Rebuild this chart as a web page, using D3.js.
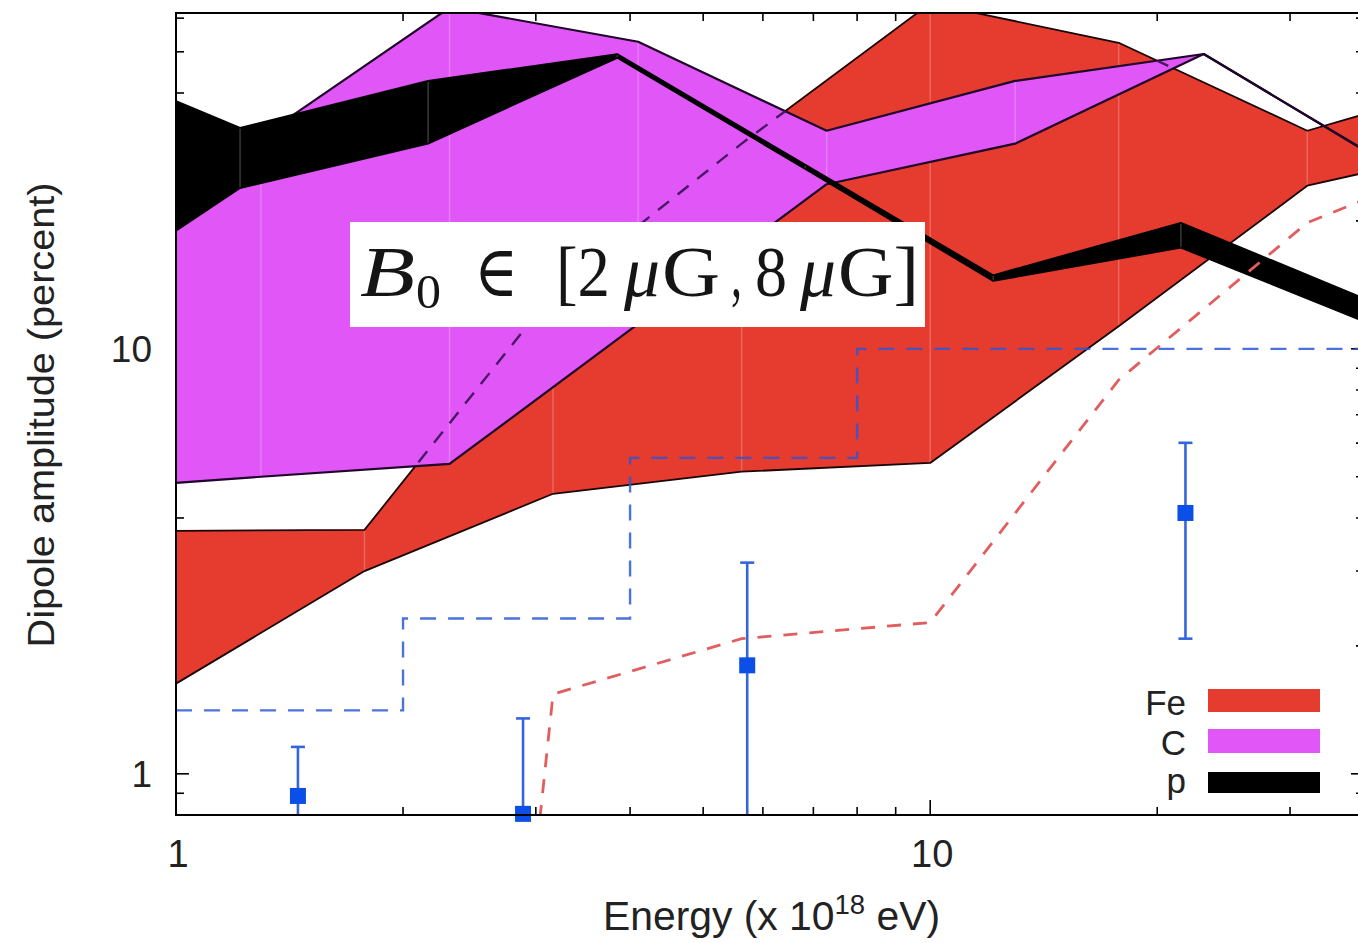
<!DOCTYPE html>
<html>
<head>
<meta charset="utf-8">
<script src="https://cdn.jsdelivr.net/npm/d3@7"></script>
<style>
  html, body { margin: 0; padding: 0; background: #ffffff; }
  svg { display: block; }
</style>
</head>
<body>
<svg id="chart" width="1358" height="943"></svg>
<script>
// ---- Expected dipole amplitude bands (percent) vs energy (x 10^18 eV) ----
const feEnergy = [1, 1.778, 3.162, 5.623, 10, 17.78, 31.62, 56.23];
const feHigh   = [3.73, 3.75, 13.5, 30.4, 65.0, 52.5, 32.6, 43.9];
const feLow    = [1.63, 3.00, 4.56, 5.14, 5.39, 11.3, 24.2, 30.5];

const cEnergy  = [1, 1.296, 2.305, 4.10, 7.29, 12.96, 23.05, 41.0];
const cHigh    = [22.3, 31.5, 63.5, 52.8, 32.6, 42.7, 49.4, 26.8];
const cLow     = [4.84, 5.0, 5.36, 11.45, 24.4, 30.4, 49.4, 26.8];

const pEnergy  = [1, 1.216, 2.159, 3.846, 6.83, 12.12, 21.5, 38.3];
const pHigh    = [38.3, 33.1, 42.7, 49.4, 27.1, 14.9, 19.8, 12.97];
const pLow     = [18.95, 23.9, 30.4, 48.4, 26.5, 14.45, 17.3, 11.45];

// ---- Upper limits (step) and a reference curve ----
const limitEnergy = [1, 2, 4, 8, 100];
const limitValue  = [1.41, 2.32, 5.54, 10, 10];

const curveEnergy = [1.778, 3.162, 5.623, 10, 17.78, 31.62, 56.23];
const curveValue  = [0.0001, 1.54, 2.08, 2.27, 8.45, 19.8, 30];

// ---- Measured amplitudes with error bars ----
const pointEnergy = [1.451, 2.885, 5.72, 21.8];
const pointValue  = [0.887, 0.805, 1.80, 4.11];
const pointHigh   = [1.157, 1.35, 3.14, 6.01];
const pointLow    = [0.5, 0.5, 0.5, 2.08];

// ---- Axis ticks ----
const xMajorTicks = [1, 10];
const xMinorTicks = [2, 3, 4, 5, 6, 7, 8, 9, 20, 30];
const yMajorTicks = [1, 10];
const yMinorTicks = [0.9, 2, 3, 4, 5, 6, 7, 8, 9, 20, 30, 40, 50, 60];
const xTickLabels = ["1", "10"];
const yTickLabels = ["1", "10"];

const legendLabels = ["Fe", "C", "p"];

const colors = { fe: "#e63b2f", c: "#e056f7", p: "#000000",
                 limit: "#2a58d6", curve: "#e25e5e", point: "#0b4fe6", bar: "#3465dc" };

const svg = d3.select("#chart");
const W = 1358, H = 943;
const plotL = 176, plotR = 1364, plotT = 13, plotB = 815;

const x = d3.scaleLog().domain([1, 37.6]).range([plotL, plotR]);
const y = d3.scaleLog().domain([0.8, 61.7]).range([plotB, plotT]);

svg.append("rect").attr("width", W).attr("height", H).attr("fill", "#fff");

const defs = svg.append("defs");
defs.append("clipPath").attr("id", "frameClip")
  .append("rect").attr("x", plotL).attr("y", plotT)
  .attr("width", plotR - plotL).attr("height", plotB - plotT);

// ---- Ticks (drawn under the bands, as in the original plot) ----
const tickG = svg.append("g").attr("stroke", "#000").attr("stroke-width", 1.6);
function xTicks(vals, len) {
  vals.forEach(v => {
    tickG.append("line").attr("x1", x(v)).attr("x2", x(v)).attr("y1", plotB).attr("y2", plotB - len);
    tickG.append("line").attr("x1", x(v)).attr("x2", x(v)).attr("y1", plotT).attr("y2", plotT + len);
  });
}
function yTicks(vals, len) {
  vals.forEach(v => {
    tickG.append("line").attr("y1", y(v)).attr("y2", y(v)).attr("x1", plotL).attr("x2", plotL + len);
    tickG.append("line").attr("y1", y(v)).attr("y2", y(v)).attr("x1", plotR).attr("x2", plotR - len);
  });
}
xTicks(xMajorTicks, 15); xTicks(xMinorTicks, 8);
yTicks(yMajorTicks, 13); yTicks(yMinorTicks, 8);

// ---- Bands ----
const plot = svg.append("g").attr("clip-path", "url(#frameClip)");

function bandData(E, lo, hi) {
  return E.map((e, i) => ({ e, lo: lo[i], hi: hi[i] }));
}
const area = d3.area().x(d => x(d.e)).y0(d => y(d.lo)).y1(d => y(d.hi));
const lineHi = d3.line().x(d => x(d.e)).y(d => y(d.hi));
const lineLo = d3.line().x(d => x(d.e)).y(d => y(d.lo));

function drawBand(data, fill, edge, edgeWidth) {
  const g = plot.append("g");
  g.append("path").attr("d", area(data)).attr("fill", fill);
  // faint seams where neighbouring polygon pieces meet
  data.slice(1, -1).forEach(d => {
    g.append("line").attr("x1", x(d.e)).attr("x2", x(d.e))
      .attr("y1", y(d.hi)).attr("y2", y(d.lo))
      .attr("stroke", "#fff").attr("stroke-opacity", 0.22).attr("stroke-width", 1.5);
  });
  g.append("path").attr("d", lineHi(data)).attr("fill", "none")
    .attr("stroke", edge).attr("stroke-width", edgeWidth).attr("stroke-linejoin", "round");
  g.append("path").attr("d", lineLo(data)).attr("fill", "none")
    .attr("stroke", edge).attr("stroke-width", edgeWidth).attr("stroke-linejoin", "round");
  return g;
}

const feData = bandData(feEnergy, feLow, feHigh);
const cData = bandData(cEnergy, cLow, cHigh);
const pData = bandData(pEnergy, pLow, pHigh);

drawBand(feData, colors.fe, "#1a0505", 1.8);
drawBand(cData, colors.c, "#1e0529", 2.2);

// upper Fe edge seen through the C band, dashed
defs.append("clipPath").attr("id", "cClip").append("path").attr("d", area(cData));
plot.append("g").attr("clip-path", "url(#cClip)")
  .append("path").attr("d", lineHi(feData)).attr("fill", "none")
  .attr("stroke", "#4a1668").attr("stroke-width", 2.4).attr("stroke-dasharray", "14 11");

drawBand(pData, colors.p, "#000", 1.8);

// ---- Upper-limit steps and reference curve ----
const limitData = limitEnergy.map((e, i) => ({ e, v: limitValue[i] }));
plot.append("path")
  .attr("d", d3.line().curve(d3.curveStepAfter).x(d => x(d.e)).y(d => y(d.v))(limitData))
  .attr("fill", "none").attr("stroke", colors.limit).attr("stroke-opacity", 0.84)
  .attr("stroke-width", 2.4).attr("stroke-dasharray", "16 12");

const curveData = curveEnergy.map((e, i) => ({ e, v: curveValue[i] }));
plot.append("path")
  .attr("d", d3.line().x(d => x(d.e)).y(d => y(d.v))(curveData))
  .attr("fill", "none").attr("stroke", colors.curve).attr("stroke-width", 2.8)
  .attr("stroke-dasharray", "14 12");

// ---- Data points ----
const pts = pointEnergy.map((e, i) => ({ e, v: pointValue[i], hi: pointHigh[i], lo: pointLow[i] }));
const barG = plot.append("g").attr("stroke", colors.bar).attr("stroke-width", 2.6);
pts.forEach(d => {
  barG.append("line").attr("x1", x(d.e)).attr("x2", x(d.e)).attr("y1", y(d.lo)).attr("y2", y(d.hi));
  barG.append("line").attr("x1", x(d.e) - 7).attr("x2", x(d.e) + 7).attr("y1", y(d.hi)).attr("y2", y(d.hi));
  barG.append("line").attr("x1", x(d.e) - 7).attr("x2", x(d.e) + 7).attr("y1", y(d.lo)).attr("y2", y(d.lo));
});
svg.append("g").selectAll("rect").data(pts).join("rect")
  .attr("x", d => x(d.e) - 8).attr("y", d => y(d.v) - 8)
  .attr("width", 16).attr("height", 16).attr("fill", colors.point);

// ---- Frame ----
svg.append("rect").attr("x", plotL).attr("y", plotT)
  .attr("width", plotR - plotL).attr("height", plotB - plotT)
  .attr("fill", "none").attr("stroke", "#000").attr("stroke-width", 2);

// ---- Field-strength annotation: B_0 ∈ [2 μG, 8 μG] ----
svg.append("rect").attr("x", 350).attr("y", 222).attr("width", 575).attr("height", 105).attr("fill", "#fff");
const annPieces = [
  { t: "B", x: 360, w: 55, y: 296, size: 72, italic: true },
  { t: "0", x: 416, w: 25, y: 308, size: 48, italic: false },
  { t: "∈", x: 474, w: 44, y: 296, size: 72, italic: false },
  { t: "[2", x: 556, w: 54, y: 296, size: 72, italic: false },
  { t: "μ", x: 624, w: 36, y: 296, size: 72, italic: true },
  { t: "G", x: 662, w: 58, y: 296, size: 72, italic: false },
  { t: ",", x: 731, w: 11, y: 296, size: 72, italic: false },
  { t: "8", x: 755, w: 32, y: 296, size: 72, italic: false },
  { t: "μ", x: 800, w: 36, y: 296, size: 72, italic: true },
  { t: "G]", x: 838, w: 81, y: 296, size: 72, italic: false }
];
const annG = svg.append("g").attr("font-family", "'Liberation Serif', 'DejaVu Serif', serif").attr("fill", "#151515");
annPieces.forEach(p => {
  annG.append("text").attr("x", p.x).attr("y", p.y).attr("font-size", p.size)
    .attr("font-style", p.italic ? "italic" : "normal")
    .attr("textLength", p.w).attr("lengthAdjust", "spacingAndGlyphs").text(p.t);
});

// ---- Legend ----
const legendColors = [colors.fe, colors.c, colors.p];
const legendRows = [{ t: 715, ry: 689, rh: 23 }, { t: 755, ry: 729, rh: 24 }, { t: 793, ry: 772, rh: 21 }];
legendLabels.forEach((lab, i) => {
  svg.append("text").attr("x", 1186).attr("y", legendRows[i].t).attr("text-anchor", "end")
    .attr("font-family", "'Liberation Sans', Arial, sans-serif").attr("font-size", 35)
    .attr("fill", "#222").text(lab);
  svg.append("rect").attr("x", 1208).attr("y", legendRows[i].ry).attr("width", 112)
    .attr("height", legendRows[i].rh).attr("fill", legendColors[i]);
});

// ---- Tick labels and axis titles ----
const font = "'Liberation Sans', Arial, sans-serif";
xMajorTicks.forEach((v, i) => {
  svg.append("text").attr("x", x(v) + 2).attr("y", 867).attr("text-anchor", "middle")
    .attr("font-family", font).attr("font-size", 38).attr("fill", "#222").text(xTickLabels[i]);
});
yMajorTicks.forEach((v, i) => {
  svg.append("text").attr("x", 152).attr("y", y(v) + 13).attr("text-anchor", "end")
    .attr("font-family", font).attr("font-size", 37).attr("fill", "#222").text(yTickLabels[i]);
});

const xt = svg.append("text").attr("x", 603).attr("y", 930)
  .attr("font-family", font).attr("font-size", 40).attr("fill", "#222")
  .attr("textLength", 337).attr("lengthAdjust", "spacingAndGlyphs");
xt.append("tspan").text("Energy (x 10");
xt.append("tspan").attr("dy", -16).attr("font-size", 27).text("18");
xt.append("tspan").attr("dy", 16).text(" eV)");

svg.append("text").attr("transform", "translate(54,415) rotate(-90)")
  .attr("text-anchor", "middle").attr("font-family", font).attr("font-size", 36)
  .attr("fill", "#222").attr("textLength", 465).attr("lengthAdjust", "spacingAndGlyphs")
  .text("Dipole amplitude (percent)");
</script>
</body>
</html>
